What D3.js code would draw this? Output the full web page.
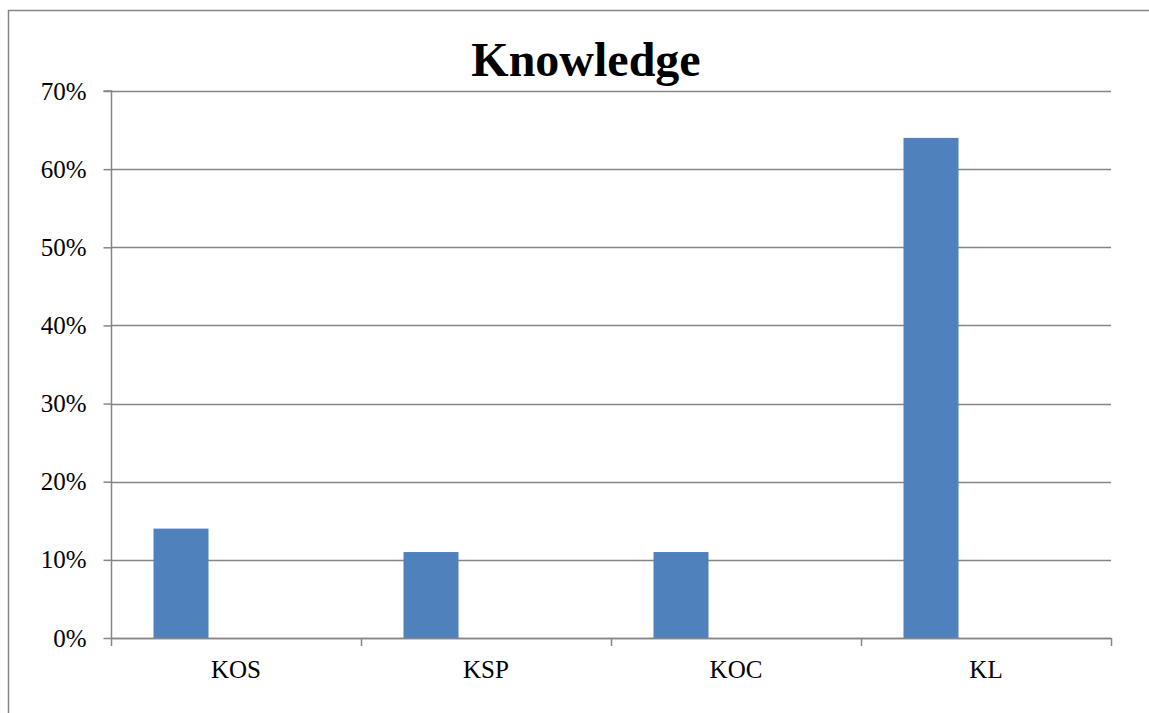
<!DOCTYPE html>
<html><head><meta charset="utf-8">
<script src="https://cdn.jsdelivr.net/npm/d3@7"></script>
<style>body{margin:0;background:#fff}svg{display:block}</style>
</head><body>
<script>
const categories = ["KOS", "KSP", "KOC", "KL"];
const seriesNames = ["Knowledge", "S2", "S3"];
const series1 = [0.14, 0.11, 0.11, 0.64];
const series2 = [0, 0, 0, 0];
const series3 = [0, 0, 0, 0];
const yTicks = [0, 0.1, 0.2, 0.3, 0.4, 0.5, 0.6, 0.7];
const title = "Knowledge";

const W = 1149, H = 713;
const m = {left: 111, right: 38, top: 91, bottom: 75};
const svg = d3.select("body").append("svg").attr("width", W).attr("height", H);

svg.append("rect").attr("x", 8.5).attr("y", 10.5).attr("width", W).attr("height", H)
  .attr("fill", "none").attr("stroke", "#868686").attr("stroke-width", 1.5);

const x = d3.scaleBand().domain(categories).range([m.left, W - m.right]).paddingInner(0.34).paddingOuter(0.17);
const y = d3.scaleLinear().domain([0, 0.7]).range([H - m.bottom, m.top]);
const band = d3.scaleBand().domain(seriesNames).range([0, x.bandwidth()]);

const g = svg.append("g");
g.selectAll(".grid").data(yTicks).enter().append("line")
  .attr("x1", m.left).attr("x2", W - m.right)
  .attr("y1", d => Math.round(y(d)) + 0.5).attr("y2", d => Math.round(y(d)) + 0.5)
  .attr("stroke", "#868686").attr("stroke-width", 1.5);

const data = categories.map((c, i) => ({c, vals: [series1[i], series2[i], series3[i]]}));
data.forEach(d => {
  d.vals.forEach((v, j) => {
    if (v > 0) g.append("rect")
      .attr("x", x(d.c) + band(seriesNames[j])).attr("width", band.bandwidth())
      .attr("y", y(v)).attr("height", y(0) - y(v)).attr("fill", "#4F81BD");
  });
});

const yAxis = d3.axisLeft(y).tickValues(yTicks).tickFormat(d3.format(".0%")).tickSize(8).tickPadding(17);
const ya = svg.append("g").attr("transform", `translate(${m.left + 0.5},0)`).call(yAxis);
ya.select(".domain").attr("stroke", "#868686").attr("stroke-width", 1.5).attr("d", `M-8,${y(0.7)}H0V${y(0)}`);
ya.selectAll(".tick line").attr("stroke", "#868686").attr("stroke-width", 1.5);
ya.selectAll("text").attr("font-family", "Liberation Serif").attr("font-size", 25).attr("fill", "#000");

const xa = svg.append("g");
xa.append("line").attr("x1", m.left).attr("x2", W - m.right)
  .attr("y1", Math.round(y(0)) + 0.5).attr("y2", Math.round(y(0)) + 0.5)
  .attr("stroke", "#868686").attr("stroke-width", 1.5);
xa.selectAll(".xt").data(d3.range(categories.length + 1)).enter().append("line")
  .attr("x1", i => m.left + i * x.step() + 0.5).attr("x2", i => m.left + i * x.step() + 0.5)
  .attr("y1", y(0)).attr("y2", y(0) + 8)
  .attr("stroke", "#868686").attr("stroke-width", 1.5);
xa.selectAll(".xl").data(categories).enter().append("text")
  .attr("x", d => x(d) + x.bandwidth() / 2)
  .attr("y", 678).attr("text-anchor", "middle")
  .attr("font-family", "Liberation Serif").attr("font-size", 25).text(d => d);

svg.append("text").attr("x", (m.left + W - m.right) / 2 - 25).attr("y", 76).attr("text-anchor", "middle")
  .attr("font-family", "Liberation Serif").attr("font-weight", "bold").attr("font-size", 48).text(title);
</script>
</body></html>
